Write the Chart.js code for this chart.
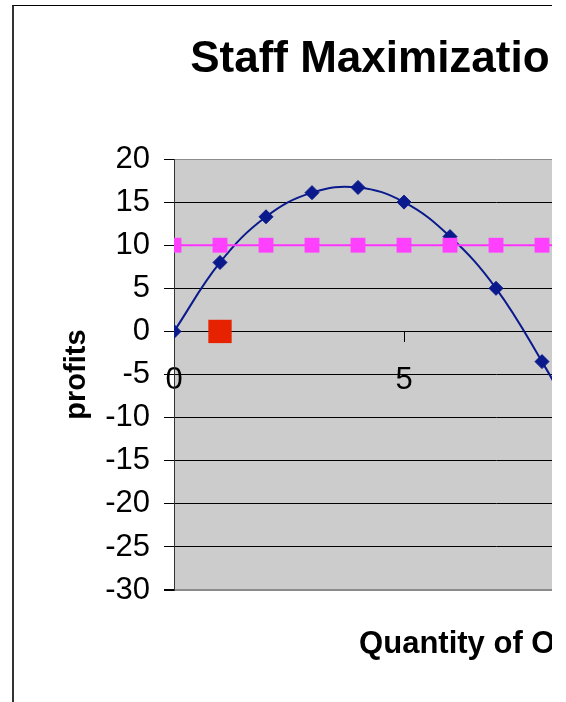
<!DOCTYPE html>
<html>
<head>
<meta charset="utf-8">
<script src="https://cdn.jsdelivr.net/npm/chart.js@4.4.1/dist/chart.umd.min.js"></script>
<style>
  html, body { margin: 0; padding: 0; background: #fff; overflow: hidden; }
  #frame {
    position: absolute; left: 12px; top: 5px;
    width: 538px; height: 720px;
    border-left: 2px solid #333; border-top: 1px solid #000;
    overflow: hidden;
  }
  #profitChart { position: absolute; left: 0; top: 0; }
</style>
</head>
<body>
<div id="frame">
  <canvas id="profitChart" width="944" height="720" style="width:944px;height:720px"></canvas>
</div>
<script>
// data
const quantities = [0, 1, 2, 3, 4, 5, 6, 7, 8, 9];
const profits = [0, 8, 13.3, 16.1, 16.7, 15, 11, 5, -3.5, -13];
const staffLevel = [10, 10, 10, 10, 10, 10, 10, 10, 10, 10];
const optimumPoint = [{ x: 1, y: 0 }];
const yTicks = [20, 15, 10, 5, 0, -5, -10, -15, -20, -25, -30];

const fontFamily = "'Liberation Sans', Arial, sans-serif";

// grey plot background
const plotBackground = {
  id: 'plotBackground',
  beforeDraw(chart) {
    const { ctx, chartArea } = chart;
    ctx.save();
    ctx.fillStyle = '#cccccc';
    ctx.fillRect(chartArea.left, chartArea.top, chartArea.right - chartArea.left, chartArea.bottom - chartArea.top);
    ctx.restore();
  }
};

const ctx = document.getElementById('profitChart');

new Chart(ctx, {
  type: 'line',
  data: {
    datasets: [
      {
        label: 'optimum',
        data: optimumPoint,
        showLine: false,
        pointStyle: 'rect',
        pointRadius: 16.5,
        backgroundColor: '#e62200',
        borderColor: '#e62200',
        borderWidth: 0,
        order: 0
      },
      {
        label: 'staff',
        data: quantities.map((q, i) => ({ x: q, y: staffLevel[i] })),
        borderColor: '#ff33ff',
        backgroundColor: '#ff40ff',
        borderWidth: 2,
        pointStyle: 'rect',
        pointRadius: 10.5,
        pointBorderWidth: 0,
        tension: 0,
        order: 1
      },
      {
        label: 'profits',
        data: quantities.map((q, i) => ({ x: q, y: profits[i] })),
        borderColor: '#0a1a8c',
        backgroundColor: '#0a1a8c',
        borderWidth: 2,
        pointStyle: 'rectRot',
        pointRadius: 7,
        pointBorderWidth: 1,
        tension: 0.4,
        order: 2
      }
    ]
  },
  options: {
    responsive: false,
    animation: false,
    layout: { padding: { top: 0, left: 0, right: 0, bottom: 63 } },
    plugins: {
      legend: { display: false },
      tooltip: { enabled: false },
      title: {
        display: true,
        text: 'Staff Maximization of Profits',
        color: '#000',
        font: { family: fontFamily, size: 44, weight: 'bold' },
        padding: { top: 27.4, bottom: 72.8 }
      }
    },
    scales: {
      x: {
        type: 'linear',
        position: { y: 0 },
        min: 0,
        max: 14,
        ticks: {
          stepSize: 5,
          color: '#000',
          padding: 20,
          font: { family: fontFamily, size: 31 }
        },
        grid: { drawOnChartArea: false, tickLength: 10, color: '#000' },
        border: { color: '#000', width: 1 }
      },
      x2: {
        type: 'linear',
        position: 'bottom',
        min: 0,
        max: 14,
        ticks: { display: false },
        grid: { display: false, drawTicks: false },
        border: { display: false },
        title: {
          display: true,
          text: 'Quantity of Output',
          color: '#000',
          font: { family: fontFamily, size: 31, weight: 'bold' },
          padding: { top: 35.7, bottom: 0 }
        }
      },
      y: {
        min: -30,
        max: 20,
        afterBuildTicks: (scale) => { scale.ticks = yTicks.map(v => ({ value: v })); },
        afterFit: (scale) => { scale.width = 160; },
        ticks: {
          color: '#000',
          padding: 14,
          font: { family: fontFamily, size: 31 }
        },
        grid: {
          color: (c) => (c.tick && (c.tick.value === 20 || c.tick.value === -30)) ? '#8c8c8c' : '#000',
          lineWidth: (c) => (c.tick && c.tick.value === -30) ? 2 : 1,
          tickColor: '#000',
          tickLength: 10
        },
        border: { color: '#333', width: 1 },
        title: {
          display: true,
          text: 'profits',
          color: '#000',
          font: { family: fontFamily, size: 29, weight: 'bold' },
          padding: { top: 45.6, bottom: 0 }
        }
      },
      // empty right-hand axis: reserves the space on the right of the plot
      y2: {
        type: 'linear',
        position: 'right',
        min: -30,
        max: 20,
        afterFit: (scale) => { scale.width = 140; },
        ticks: { display: false },
        grid: { display: false, drawTicks: false },
        border: { display: false }
      }
    }
  },
  plugins: [plotBackground]
});
</script>
</body>
</html>
